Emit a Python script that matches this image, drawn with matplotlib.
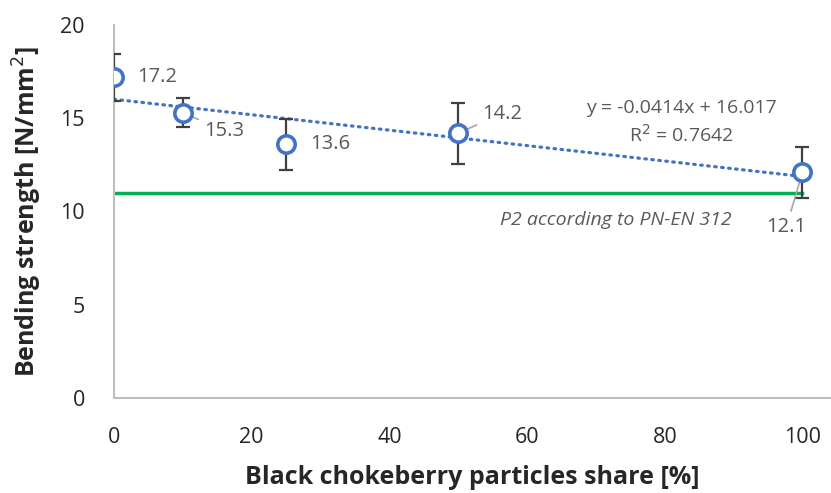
import numpy as np
import matplotlib.pyplot as plt

plt.rcParams['font.family'] = ['Open Sans', 'DejaVu Sans']

share = [0, 10, 25, 50, 100]
strength = [17.2, 15.3, 13.6, 14.2, 12.1]
strength_err = [1.25, 0.77, 1.35, 1.63, 1.37]
p2_limit = 11.0
slope, intercept, r2 = -0.0414, 16.017, 0.7642

blue = '#4472C4'
grey_txt = '#595959'

fig = plt.figure(figsize=(8.31, 4.93), dpi=100)
ax = fig.add_axes([114 / 831, 1 - 398 / 493, 716 / 831, 373 / 493])

# P2 requirement line
ax.plot([0, 100], [p2_limit, p2_limit], color='#00B050', linewidth=2.5, zorder=1)

# linear trend
xt = np.array([0, 100])
ax.plot(xt, slope * xt + intercept, color=blue, linewidth=2.3, linestyle=(0, (0.5, 1.7)),
        dash_capstyle='round', zorder=2)

ax.errorbar(share, strength, yerr=strength_err, fmt='none', ecolor='#404040',
            elinewidth=1.6, capsize=5, capthick=1.6, zorder=3)
ax.plot(share, strength, linestyle='none', marker='o', markersize=12.5,
        markerfacecolor='white', markeredgecolor=blue, markeredgewidth=2.6, zorder=4)

# value labels
offsets = [(17, 0), (15, -13), (17, 0), (17, 14), (-26, -39)]
leaders = [False, True, False, True, True]
for x, y, (dx, dy), lead in zip(share, strength, offsets, leaders):
    props = dict(arrowstyle='-', color='#a6a6a6', lw=1.2, shrinkA=2, shrinkB=0) if lead else None
    ax.annotate(f'{y}', xy=(x, y), xytext=(dx, dy), textcoords='offset points',
                fontsize=14.5, color=grey_txt, ha='left', va='center',
                arrowprops=props)

ax.text(82.4, 15.55, f'y = {slope}x + {intercept}', fontsize=14, color=grey_txt,
        ha='center', va='center')
ax.text(82.4, 14.1, f'R$^2$ = {r2}', fontsize=14, color=grey_txt,
        ha='center', va='center')
ax.text(72.9, 9.55, 'P2 according to PN-EN 312', fontsize=14, color=grey_txt,
        style='italic', ha='center', va='center')

ax.set_xlim(0, 104)
ax.set_ylim(0, 20)
ax.set_xticks([0, 20, 40, 60, 80, 100])
ax.set_yticks([0, 5, 10, 15, 20])
ax.tick_params(length=0, labelsize=15.5, colors='#262626')
ax.tick_params(axis='x', pad=21)
ax.tick_params(axis='y', pad=21)

for side in ['top', 'right']:
    ax.spines[side].set_visible(False)
for side in ['left', 'bottom']:
    ax.spines[side].set_color('#bfbfbf')
    ax.spines[side].set_linewidth(1.5)

ax.set_xlabel('Black chokeberry particles share [%]', fontsize=18, fontweight='bold',
              color='#262626', labelpad=12)
ax.set_ylabel('Bending strength [N/mm$^2$]', fontsize=18, fontweight='bold',
              color='#262626', labelpad=12)

fig.savefig('out.png', dpi=100)
